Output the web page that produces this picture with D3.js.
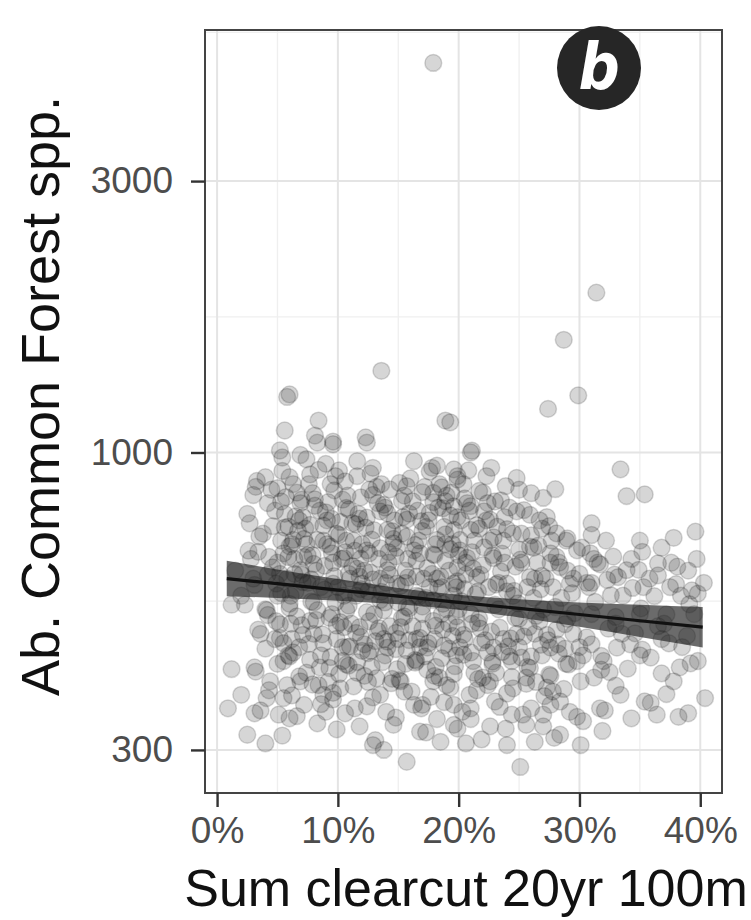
<!DOCTYPE html>
<html>
<head>
<meta charset="utf-8">
<script src="https://cdn.jsdelivr.net/npm/d3@7"></script>
<style>
  body { margin: 0; background: #fff; }
  svg { display: block; }
</style>
</head>
<body>
<svg id="chart" width="751" height="920"></svg>
<script>
// [sum clearcut %, abundance]
const sites = [
  // sparse high values
  [17.9,4840],[31.4,1910],[28.7,1578],[29.9,1260],[27.4,1193],[13.6,1392],[5.8,1252],[6.0,1265],
  [8.4,1138],[5.6,1093],[8.1,1071],[9.6,1045],[12.3,1063],[18.9,1138],[19.3,1130],[5.2,1008],[21.1,1007],
  // upper left of the cloud
  [5.4,980],[7.4,973],[11.6,966],[16.3,966],[9.6,1034],[12.4,1041],[8.3,1041],[3.3,891],[5.4,928],
  [7.7,915],[9.8,909],[11.6,909],[19.6,934],[4.2,815],[6.9,815],[8.1,827],[10.7,799],[14.3,861],
  [15.7,873],[17.9,849],[18.9,821],[2.7,751],[5.9,741],[7.7,746],[11.2,751],[13.5,788],[15.7,762],
  [17.6,783],[3.4,669],[5.5,665],[9.4,683],[10.5,652],[12.4,673],[14.6,692],[16.3,673],[18.2,702],
  [19.6,731],[6.3,702],[14.1,731],[4.1,528],[6.0,542],[8.3,528],[10.7,528],[13.5,550],[15.7,535],
  [17.9,550],[19.6,588],[6.9,621],[11.8,605],[14.1,621],[16.5,605],[9.6,588],[4.9,588],[18.5,605],
  // upper right of the cloud
  [21.0,1000],[33.4,934],[22.3,909],[23.9,873],[19.9,909],[33.9,838],[35.4,844],[27.0,832],[19.6,804],
  [22.1,788],[25.9,777],[39.6,726],[31.0,751],[31.0,716],[28.1,721],[24.5,721],[21.0,731],[23.2,741],
  [35.2,669],[36.5,638],[32.8,656],[22.9,652],[25.9,683],[27.6,665],[30.9,665],[33.9,621],[37.5,580],
  [39.3,572],[35.3,580],[32.3,597],[29.2,588],[25.9,604],[21.5,604],[24.0,588],[20.1,673],[20.7,815],
  // lower left
  [1.2,416],[3.1,419],[0.9,355],[2.0,375],[3.1,348],[2.5,319],[4.0,308],[4.1,370],[5.5,370],[5.1,346],
  [6.0,341],[8.3,334],[6.3,445],[8.8,375],[9.6,368],[10.7,424],[12.7,448],[13.5,375],[14.6,332],
  [12.9,306],[13.8,300],[15.7,286],[16.8,323],[18.5,310],[16.3,360],[17.9,396],[15.2,396],[16.5,430],
  [19.6,360],[19.6,332],[6.9,396],[4.4,396],[3.6,480],[5.2,499],[7.7,506],[10.5,493],[15.2,493],
  [17.9,506],[14.1,454],[17.4,454],[11.8,493],
  // lower right
  [40.4,370],[38.2,343],[35.9,363],[34.3,341],[36.4,346],[33.4,375],[31.7,355],[32.5,411],[38.3,419],
  [37.8,396],[35.9,436],[33.1,454],[30.3,337],[30.1,306],[28.4,319],[26.3,310],[24.0,306],[21.9,313],
  [25.1,280],[25.6,332],[24.4,346],[27.0,346],[19.9,327],[21.0,355],[21.5,382],[25.6,402],[27.3,386],
  [28.4,365],[30.1,396],[22.9,454],[19.9,493],[24.8,480],[27.6,454],[29.8,430],[32.0,430],[34.2,460],
  [22.6,396],[19.6,408],
  // dense core
  [3.8,720],[4.5,860],[5.0,640],[5.6,780],[6.2,690],[6.6,850],[7.0,610],[7.3,735],[7.9,660],[8.5,790],
  [8.8,700],[6.0,905],[7.6,880],[5.3,700],[4.2,610],[8.2,620],[9.1,760],[6.4,650],[7.1,770],[5.8,600],
  [9.4,880],[9.9,720],[10.3,650],[10.8,840],[11.3,700],[11.7,780],[12.2,620],[12.6,860],[13.0,730],
  [13.4,650],[13.9,800],[14.3,610],[14.7,760],[10.1,930],[11.0,600],[12.9,940],[13.6,880],[14.9,680],
  [9.6,640],[12.0,690],[15.3,720],[15.8,650],[16.2,820],[16.7,700],[17.1,600],[17.5,760],[18.0,660],
  [18.4,880],[18.8,740],[19.2,620],[19.5,690],[19.8,580],[20.2,760],[20.6,640],[16.0,900],[17.8,940],
  [19.0,840],[20.4,880],[15.6,590],[18.6,580],[19.6,560],[17.3,555],
  [21.3,700],[21.8,610],[22.3,760],[22.8,660],[23.3,590],[23.7,700],[24.2,800],[24.7,630],[25.2,720],
  [25.7,580],[26.2,680],[26.7,760],[27.2,600],[27.7,700],[22.0,850],[23.0,820],[25.0,860],[26.5,640],
  [24.0,570],[21.6,570],
  [28.3,640],[28.9,700],[29.5,600],[30.2,680],[30.8,580],[31.5,640],[32.2,700],[32.9,610],[33.6,560],
  [34.3,650],[35.0,700],[35.8,600],[36.8,680],[37.6,640],[38.4,560],[39.0,620],[39.7,650],
  [40.3,590],
  [2.0,560],[3.0,600],[4.0,530],[6.5,570],[8.0,545],[9.5,520],[11.5,560],[13.0,520],[15.0,545],
  [17.0,520],[19.0,530],[21.0,520],[23.0,540],[25.0,510],[27.0,530],[29.0,510],[31.0,520],[33.0,500],
  [35.0,520],[37.0,500],[39.5,520],[1.5,620],[2.8,650],[1.2,540],
  [4.8,470],[5.5,430],[6.1,500],[6.8,455],[7.4,410],[8.0,480],[8.6,440],[9.2,395],[9.9,470],[10.4,430],
  [11.1,500],[11.6,410],[12.2,460],[12.8,420],[13.3,485],[13.9,440],[14.5,400],[15.0,470],[15.6,425],
  [16.2,495],[16.8,455],[17.4,415],[18.0,470],[18.6,435],[19.2,500],[19.8,440],[20.5,470],[21.2,430],
  [21.8,490],[22.4,445],[23.1,410],[23.7,470],[24.4,430],[25.0,455],[25.7,420],[26.3,480],[26.9,440],
  [27.6,405],[28.2,460],[28.9,425],[29.5,480],[30.3,440],[31.0,460],[31.8,415],[33.5,480],[35.0,440],
  [36.8,470],[38.5,455],[39.8,430],
  [5.8,390],[7.2,360],[9.0,350],[10.2,385],[11.4,355],[12.5,395],[14.0,350],[15.5,380],[17.0,360],
  [18.2,340],[19.0,390],[20.3,350],[21.6,400],[23.0,365],[24.5,385],[26.0,355],[27.8,380],[29.2,350],
  [11.8,330],[22.6,330],[27.0,330],
  [5.0,560],[7.5,590],[10.0,580],[12.5,570],[14.0,590],[16.5,560],[18.2,600],[20.0,530],[22.5,580],
  [24.5,560],[26.8,575],[28.5,555],
  [2.5,780],[3.2,870],[6.9,990],[17.2,870],[18.3,800],[20.8,930],
  // second pass through the cloud, row by row
  [9.0,955],[18.2,948],
  [4.0,905],[6.3,880],[8.4,932],[10.6,890],[12.7,918],[15.1,884],[17.6,926],[19.9,896],[22.7,940],[24.8,902],
  [3.0,842],[5.0,866],[7.0,826],[9.7,858],[11.9,834],[13.2,870],[15.3,822],[17.0,852],[18.6,868],
  [20.5,830],[21.7,856],[23.5,824],[26.0,848],[28.0,862],
  [4.8,790],[6.5,772],[8.1,806],[9.5,764],[10.9,794],[12.4,768],[13.8,809],[15.9,781],[16.9,757],
  [18.7,798],[19.9,770],[21.0,805],[22.6,762],[24.8,788],[27.3,770],
  [3.5,712],[5.6,738],[7.2,705],[8.8,744],[10.1,716],[11.5,748],[12.8,703],[14.5,727],[15.7,711],
  [17.3,740],[18.9,718],[20.1,702],[21.5,745],[22.9,709],[24.0,733],[26.0,715],[27.5,742],[29.0,706],
  [37.8,708],
  [2.6,672],[4.3,655],[6.0,684],[7.5,660],[9.1,690],[10.6,668],[11.9,651],[13.5,679],[14.8,657],
  [16.4,688],[17.9,662],[19.3,676],[20.7,653],[22.1,681],[23.6,664],[25.1,648],[26.6,686],[28.1,655],
  [29.8,673],[31.2,650],
  [4.6,628],[6.4,612],[8.0,637],[9.7,606],[11.2,631],[12.7,615],[14.2,640],[15.8,603],[17.4,626],
  [18.9,645],[20.6,610],[22.0,634],[23.5,618],[25.2,640],[26.9,607],[28.4,629],[30.0,612],[31.7,636],
  [33.2,604],[34.9,622],[36.5,608],[38.1,630],
  [3.1,585],[5.3,566],[7.1,592],[8.9,574],[10.5,560],[12.0,588],[13.6,569],[15.2,583],[16.7,558],
  [18.3,577],[19.9,594],[21.4,563],[23.1,586],[24.6,571],[26.2,555],[27.8,580],[29.4,566],[31.0,590],
  [32.6,561],[34.4,578],[36.2,559],[38.0,587],[39.8,565],
  [2.3,540],[4.2,518],[6.0,533],[7.8,547],[9.3,512],[10.9,538],[12.4,524],[13.9,545],[15.5,515],
  [17.0,536],[18.6,520],[20.2,548],[21.7,511],[23.3,530],[24.9,543],[26.4,516],[28.0,535],[29.6,522],
  [31.3,546],[33.0,514],[35.1,532],[37.2,519],[39.1,541],
  [3.4,488],[5.2,472],[7.0,497],[8.7,479],[10.2,503],[11.9,474],[13.4,491],[14.8,482],[16.5,470],
  [18.1,496],[19.5,476],[21.1,500],[22.7,484],[24.3,471],[25.8,493],[27.3,478],[28.8,499],[30.6,473],
  [32.4,490],[34.6,481],[36.5,495],[38.9,476],
  [4.0,452],[5.9,440],[7.6,461],[9.4,437],[11.0,456],[12.5,444],[14.1,465],[15.7,449],[17.2,438],
  [18.8,458],[20.4,441],[21.9,463],[23.6,446],[25.2,436],[26.8,459],[28.3,443],[30.0,455],[31.8,439],
  [35.2,450],[37.4,462],
  [3.2,412],[5.0,425],[6.8,404],[8.5,419],[10.1,408],[11.6,428],[13.2,401],[14.9,416],[16.4,427],
  [18.0,405],[19.7,421],[21.3,410],[22.8,429],[24.4,403],[25.9,418],[27.5,407],[29.1,424],[31.2,402],
  [34.0,417],[36.8,409],[39.2,426],
  [4.3,382],[6.2,374],[7.9,391],[9.6,378],[11.3,388],[12.9,371],[14.4,393],[16.1,380],[17.7,372],
  [19.3,386],[20.9,375],[22.4,390],[24.0,377],[25.6,392],[27.1,373],[28.7,384],[33.0,389],[37.2,376],
  [3.6,352],[6.6,344],[8.6,361],[10.6,348],[12.4,358],[14.8,342],[16.9,355],[18.8,364],[21.0,340],
  [23.4,357],[25.3,346],[27.6,360],[29.8,343],[32.1,352],[35.4,365],[39.0,348],
  [5.4,318],[9.9,326],[13.1,312],[17.3,322],[20.6,308],[23.9,327],[27.9,315],[31.9,324],
  // third pass, darkest part of the cloud
  [4.6,742],[5.2,612],[5.7,835],[6.1,560],[6.7,728],[7.2,655],[7.8,598],[8.3,702],[8.9,632],[9.2,818],
  [9.8,545],[10.2,755],[10.9,612],[11.4,672],[11.9,575],[12.3,738],[12.9,598],[13.3,815],[13.8,528],
  [14.2,668],[14.9,588],[15.4,770],[15.9,532],[16.5,645],[17.0,728],[17.6,580],[18.1,690],[18.7,542],
  [19.3,775],[19.9,628],[20.5,575],[21.1,668],[21.7,735],
  [4.9,505],[5.5,462],[6.0,438],[6.6,515],[7.1,478],[7.7,432],[8.2,508],[8.8,462],[9.3,418],[9.9,496],
  [10.4,455],[10.9,422],[11.5,482],[12.0,448],[12.6,505],[13.1,466],[13.7,428],[14.3,495],[14.8,451],
  [15.3,512],[15.9,468],[16.4,432],[17.0,490],[17.5,462],[18.1,420],[18.7,488],[19.2,452],[19.8,515],
  [20.4,478],[21.0,445],[21.6,502],[22.2,468],[22.8,425],[23.4,492],[24.1,456],[24.7,512],[25.4,475],
  [26.0,438],[26.7,505],[27.4,468],[28.1,488],[28.8,452],
  [5.3,820],[6.8,760],[7.9,848],[9.0,785],[10.4,826],[11.8,765],[12.9,842],[14.1,782],[15.5,840],
  [16.6,790],[17.9,818],[19.4,850],[20.9,790],[22.4,815],[23.8,770],[25.4,792],[26.9,735],
  [6.2,470],[8.4,390],[10.8,455],[12.2,405],[13.8,470],[15.1,398],[16.8,472],[18.4,402],[20.1,455],
  [22.0,402],[24.2,438],[26.4,395],
  [5.9,655],[7.4,690],[8.6,580],[9.5,665],[10.7,700],[11.6,625],[12.6,665],[13.5,600],[14.6,705],
  [15.6,620],[16.8,665],[17.8,612],[18.9,690],[20.0,660],[21.2,625],[22.6,700],[23.8,640],[25.0,675],
  [26.3,600],[27.6,640],[29.0,620],[30.6,590]
];

// linear fit on log scale with its confidence band
const fitX  = [0.8, 5, 10, 15, 20, 25, 30, 35, 40.2];
const fitY  = [600, 588, 573, 559, 545, 532, 519, 506, 493];
const fitLo = [559, 555, 549, 541, 529, 513, 494, 474, 454];
const fitHi = [645, 623, 599, 578, 562, 552, 545, 540, 535];

const xTicks = [0, 10, 20, 30, 40];
const xMinor = [5, 15, 25, 35];
const yTicks = [300, 1000, 3000];
const yMinor = [548, 1732, 5477];

const panelLabel = "b";
const xTitle = "Sum clearcut 20yr 100m";
const yTitle = "Ab. Common Forest spp.";

const panel = { left: 205, right: 722, top: 30, bottom: 793 };
const font = "'Liberation Sans', Arial, Helvetica, sans-serif";

const svg = d3.select("#chart");

// the source picture is a little soft
svg.append("defs").append("filter")
    .attr("id", "soft")
    .append("feGaussianBlur")
    .attr("stdDeviation", 0.7);

const x = d3.scaleLinear()
    .domain([-1.0, 41.8])
    .range([panel.left, panel.right]);

const y = d3.scaleLog()
    .domain([252, 5530])
    .range([panel.bottom, panel.top]);

// grid
const grid = svg.append("g");
grid.selectAll(".xminor").data(xMinor).join("line")
    .attr("x1", d => x(d)).attr("x2", d => x(d))
    .attr("y1", panel.top).attr("y2", panel.bottom)
    .attr("stroke", "#efefef").attr("stroke-width", 1.3);
grid.selectAll(".yminor").data(yMinor).join("line")
    .attr("y1", d => y(d)).attr("y2", d => y(d))
    .attr("x1", panel.left).attr("x2", panel.right)
    .attr("stroke", "#efefef").attr("stroke-width", 1.3);
grid.selectAll(".xmajor").data(xTicks).join("line")
    .attr("x1", d => x(d)).attr("x2", d => x(d))
    .attr("y1", panel.top).attr("y2", panel.bottom)
    .attr("stroke", "#e4e4e4").attr("stroke-width", 2);
grid.selectAll(".ymajor").data(yTicks).join("line")
    .attr("y1", d => y(d)).attr("y2", d => y(d))
    .attr("x1", panel.left).attr("x2", panel.right)
    .attr("stroke", "#e4e4e4").attr("stroke-width", 2);

// points
svg.append("g")
    .attr("filter", "url(#soft)")
    .selectAll("circle")
    .data(sites)
    .join("circle")
    .attr("cx", d => x(d[0]))
    .attr("cy", d => y(d[1]))
    .attr("r", 8.4)
    .attr("fill", "#000")
    .attr("fill-opacity", 0.16)
    .attr("stroke", "#000")
    .attr("stroke-opacity", 0.16)
    .attr("stroke-width", 1.5);

// fit band and line
const fit = fitX.map((d, i) => ({ x: d, y: fitY[i], lo: fitLo[i], hi: fitHi[i] }));

svg.append("path")
    .datum(fit)
    .attr("d", d3.area()
        .x(d => x(d.x))
        .y0(d => y(d.lo))
        .y1(d => y(d.hi))
        .curve(d3.curveMonotoneX))
    .attr("fill", "#1e1e1e")
    .attr("fill-opacity", 0.66);

svg.append("path")
    .datum(fit)
    .attr("d", d3.line()
        .x(d => x(d.x))
        .y(d => y(d.y)))
    .attr("fill", "none")
    .attr("stroke", "#111")
    .attr("stroke-width", 3.2);

// panel border
svg.append("rect")
    .attr("x", panel.left).attr("y", panel.top)
    .attr("width", panel.right - panel.left)
    .attr("height", panel.bottom - panel.top)
    .attr("fill", "none")
    .attr("stroke", "#444")
    .attr("stroke-width", 2);

// axes
const xAxis = svg.append("g")
    .attr("transform", `translate(0,${panel.bottom})`)
    .call(d3.axisBottom(x).tickValues(xTicks).tickSize(14).tickPadding(10).tickFormat(d => d + "%"));
xAxis.select(".domain").remove();
xAxis.selectAll("line").attr("stroke", "#333").attr("stroke-width", 2.4);
xAxis.selectAll("text")
    .attr("fill", "#4d4d4d")
    .style("font-family", font)
    .style("font-size", "37px");

const yAxis = svg.append("g")
    .attr("transform", `translate(${panel.left},0)`)
    .call(d3.axisLeft(y).tickValues(yTicks).tickSize(14).tickPadding(18).tickFormat(d3.format("d")));
yAxis.select(".domain").remove();
yAxis.selectAll("line").attr("stroke", "#333").attr("stroke-width", 2.4);
yAxis.selectAll("text")
    .attr("fill", "#4d4d4d")
    .style("font-family", font)
    .style("font-size", "37px");

// titles
svg.append("text")
    .attr("x", 466)
    .attr("y", 906)
    .attr("text-anchor", "middle")
    .style("font-family", font)
    .style("font-size", "52px")
    .attr("fill", "#111")
    .text(xTitle);

svg.append("text")
    .attr("transform", "rotate(-90)")
    .attr("x", -396)
    .attr("y", 59)
    .attr("text-anchor", "middle")
    .style("font-family", font)
    .style("font-size", "54px")
    .attr("fill", "#111")
    .text(yTitle);

// panel badge
svg.append("circle")
    .attr("cx", 599).attr("cy", 68).attr("r", 42)
    .attr("fill", "#262626");
svg.append("text")
    .attr("x", 599)
    .attr("y", 89)
    .attr("text-anchor", "middle")
    .style("font-family", "'Liberation Sans Narrow', 'DejaVu Sans Condensed', Arial, sans-serif")
    .style("font-size", "64px")
    .style("font-weight", "bold")
    .style("font-style", "italic")
    .attr("fill", "#fff")
    .text(panelLabel);
</script>
</body>
</html>
